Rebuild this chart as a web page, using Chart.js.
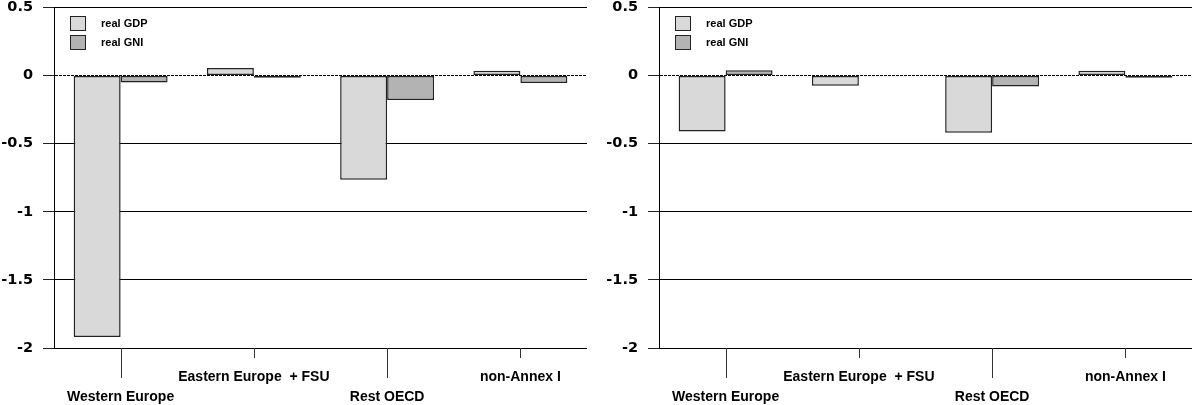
<!DOCTYPE html>
<html><head><meta charset="utf-8">
<script src="https://cdn.jsdelivr.net/npm/chart.js@4/dist/chart.umd.min.js"></script>
<style>
html,body{margin:0;padding:0;background:#fff;}
#wrap{position:relative;width:1192px;height:405px;overflow:hidden;}
canvas{position:absolute;top:0;}
</style></head><body>
<div id="wrap">
<canvas id="c1" width="596" height="405" style="left:0"></canvas>
<canvas id="c2" width="596" height="405" style="left:596px"></canvas>
</div>
<script>
// ---- data ----
const categories = ['Western Europe', 'Eastern Europe  + FSU', 'Rest OECD', 'non-Annex I'];
const seriesNames = ['real GDP', 'real GNI'];
const leftGDP  = [-1.92, 0.055, -0.765, 0.035];
const leftGNI  = [-0.05, -0.015, -0.18, -0.055];
const rightGDP = [-0.41, -0.075, -0.42, 0.035];
const rightGNI = [0.04, -0.005, -0.08, -0.015];
const yMin = -2, yMax = 0.5, yStep = 0.5;

const GDP_COLOR = '#d9d9d9', GNI_COLOR = '#b3b3b3', EDGE = '#222222';

const extras = {
  id: 'extras',
  afterDraw(chart) {
    const ctx = chart.ctx, xs = chart.scales.x, ca = chart.chartArea;
    ctx.save();
    ctx.strokeStyle = '#333';
    ctx.lineWidth = 1;
    for (let i = 0; i < categories.length; i++) {
      const x = Math.round(xs.getPixelForValue(i)) + 0.5;
      const len = i % 2 === 0 ? 30 : 10;
      ctx.beginPath();
      ctx.moveTo(x, ca.bottom);
      ctx.lineTo(x, ca.bottom + len);
      ctx.stroke();
    }
    // legend
    const ds = chart.data.datasets;
    const bx = Math.round(ca.left) + 16;
    const tops = [16, 35];
    ctx.font = 'bold 11px "Liberation Sans", Arial, sans-serif';
    ctx.textBaseline = 'middle';
    ctx.textAlign = 'left';
    ds.forEach((d, k) => {
      const y = tops[k];
      ctx.fillStyle = d.backgroundColor;
      ctx.fillRect(bx, y, 16, 15);
      ctx.strokeStyle = EDGE;
      ctx.strokeRect(bx + 0.5, y + 0.5, 15, 14);
      ctx.fillStyle = '#000';
      ctx.fillText(d.label, bx + 31, y + 8);
    });
    ctx.restore();
  }
};

function makeChart(id, gdp, gni, yWidth, rightPad) {
  return new Chart(document.getElementById(id), {
    type: 'bar',
    data: {
      labels: categories,
      datasets: [
        { label: seriesNames[0], data: gdp, backgroundColor: GDP_COLOR, borderColor: EDGE, borderWidth: 1.5, borderSkipped: false,
          barPercentage: 1, categoryPercentage: 0.705 },
        { label: seriesNames[1], data: gni, backgroundColor: GNI_COLOR, borderColor: EDGE, borderWidth: 1.5, borderSkipped: false,
          barPercentage: 1, categoryPercentage: 0.705 }
      ]
    },
    options: {
      responsive: false,
      animation: false,
      devicePixelRatio: 1,
      layout: { padding: { left: 0, right: rightPad, top: 7.5, bottom: 0 } },
      plugins: { legend: { display: false }, tooltip: { enabled: false } },
      scales: {
        x: {
          type: 'category',
          offset: true,
          grid: { display: false },
          border: { display: false },
          ticks: {
            autoSkip: false, maxRotation: 0, minRotation: 0, padding: 11, color: '#000',
            font: { family: '"Liberation Sans", Arial, sans-serif', weight: 'bold', size: 14, lineHeight: '20px' },
            callback: function (v, i) { const l = categories[i]; return i % 2 === 0 ? ['', l] : [l]; }
          },
          afterFit: s => { s.height = 57; s.paddingLeft = 0; s.paddingRight = 0; }
        },
        y: {
          min: yMin, max: yMax,
          grid: { color: '#000', lineWidth: 1, drawTicks: true, tickLength: 11, tickColor: '#222' },
          border: { display: true, color: '#000', width: 1,
            dash: ctx => (ctx.tick && ctx.tick.value === 0) ? [3, 1] : [] },
          ticks: {
            stepSize: yStep, padding: 10, color: '#000',
            font: { family: '"DejaVu Sans", sans-serif', weight: 'bold', size: 14.5 },
            callback: v => String(v)
          },
          afterFit: s => { s.width = yWidth; s.paddingTop = 0; s.paddingBottom = 0; }
        }
      }
    },
    plugins: [extras]
  });
}

makeChart('c1', leftGDP, leftGNI, 54, 9);
makeChart('c2', rightGDP, rightGNI, 63, 0);
</script>
</body></html>
